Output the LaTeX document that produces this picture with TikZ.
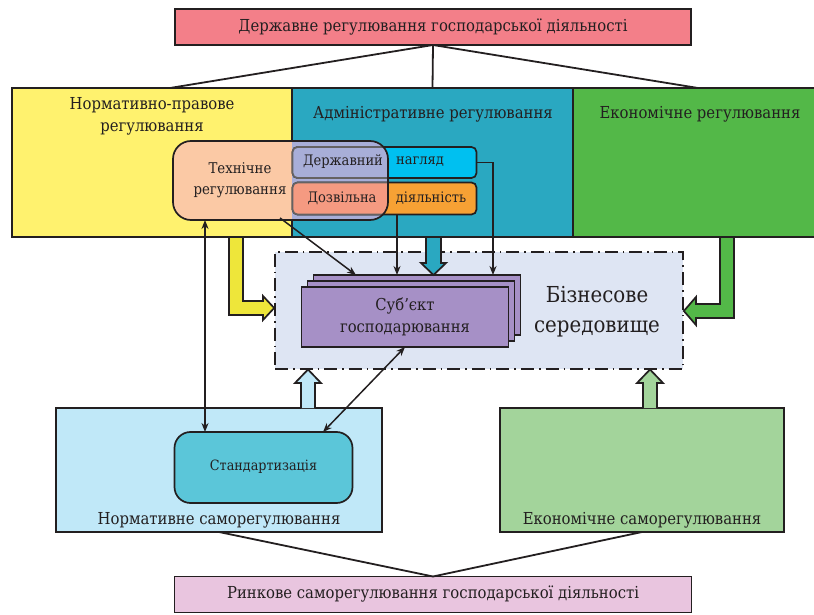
\documentclass[tikz,border=0pt]{standalone}
\usepackage{fontspec}
\setmainfont{DejaVu Serif Condensed}
\usetikzlibrary{arrows.meta,calc}
\definecolor{ink}{HTML}{231F20}
\definecolor{cpink}{HTML}{F37F89}
\definecolor{cyel}{HTML}{FFF26E}
\definecolor{cyelarr}{HTML}{EEE63A}
\definecolor{cteal}{HTML}{2AA8C1}
\definecolor{cgreen}{HTML}{53B848}
\definecolor{cpeach}{HTML}{FBC9A5}
\definecolor{clav}{HTML}{A8AED8}
\definecolor{ccyan}{HTML}{00C0F0}
\definecolor{corange}{HTML}{F7A134}
\definecolor{csalmon}{HTML}{F59A81}
\definecolor{cbiz}{HTML}{DEE5F3}
\definecolor{cpurple}{HTML}{A690C6}
\definecolor{clblue}{HTML}{C0E8F8}
\definecolor{clgreen}{HTML}{A3D49B}
\definecolor{cstd}{HTML}{5BC6D9}
\definecolor{cbpink}{HTML}{E9C5DF}
\begin{document}
\begin{tikzpicture}[x=1pt,y=-1pt, line join=miter,
  box/.style={draw=ink, line width=1.7pt, inner sep=0pt, outer sep=0pt},
  lbl/.style={text=ink, align=center, inner sep=0pt, font=\fontsize{16.5}{22}\selectfont},
  thinline/.style={draw=ink, line width=1.5pt},
  fanline/.style={draw=ink, line width=1.8pt},
  tipend/.style={-{Stealth[length=9pt,width=7pt]}},
  tipboth/.style={{Stealth[length=9pt,width=7pt]}-{Stealth[length=9pt,width=7pt]}},
  blk/.style={draw=ink, line width=1.7pt, line join=miter}]
\useasboundingbox (0,0) rectangle (814,615);
\clip (0,0) rectangle (814,615);

% ---- top box and fan
\node[box, fill=cpink, minimum width=516pt, minimum height=36pt] (top) at (433,27) {};
\node[lbl] (ttop) at (433,27) {Державне регулювання господарської діяльності};

% ---- main row
\node[box, fill=cyel, minimum width=280pt, minimum height=149pt] (yel) at (152,162.5) {};
\node[box, fill=cteal, minimum width=281pt, minimum height=149pt] (adm) at (432.5,162.5) {};
\node[box, fill=cgreen, minimum width=245pt, minimum height=149pt] (eco) at (695.5,162.5) {};

\coordinate (fanl) at (170,88);
\coordinate (fanr) at (698,88);
\draw[fanline] (top.south) -- (fanl);
\draw[fanline] (top.south) -- (adm.north);
\draw[fanline] (top.south) -- (fanr);

\node[lbl] (tyel) at (152,116) {Нормативно-правове\\регулювання};
\node[lbl] (tadm) at (433,114) {Адміністративне регулювання};
\node[lbl] (teco) at (700,114) {Економічне регулювання};

% ---- technical regulation and overlapping boxes
\def\techpath{(173,141) rectangle (388,220)}
\fill[cpeach, rounded corners=18pt] \techpath;
\begin{scope}
  \clip (292,0) rectangle (814,615);
  \fill[clav, rounded corners=18pt] \techpath;
\end{scope}
\node[box, fill=ccyan, rounded corners=5pt, minimum width=184pt, minimum height=31pt] (nad) at (384.5,162.5) {};
\node[box, fill=corange, rounded corners=5pt, minimum width=184pt, minimum height=32pt] (doz) at (384.5,198.5) {};
\begin{scope}
  \clip[rounded corners=18pt] \techpath;
  \fill[clav, rounded corners=5pt] (292.5,147) rectangle (476.5,178);
  \fill[csalmon, rounded corners=5pt] (292.5,182.5) rectangle (476.5,214.5);
  \draw[ink!70, line width=1.7pt, rounded corners=5pt] (292.5,147) rectangle (476.5,178);
  \draw[ink!70, line width=1.7pt, rounded corners=5pt] (292.5,182.5) rectangle (476.5,214.5);
\end{scope}
\node[box, rounded corners=18pt, minimum width=215pt, minimum height=79pt] (tech) at (280.5,180.5) {};

\node[lbl, font=\fontsize{14.8}{21}\selectfont] (ttech) at (240,180) {Технічне\\регулювання};
\node[lbl, font=\fontsize{14.5}{20}\selectfont] (tnad1) at (343,162) {Державний};
\node[lbl, font=\fontsize{14.5}{20}\selectfont] (tnad2) at (420,162) {нагляд};
\node[lbl, font=\fontsize{14.5}{20}\selectfont] (tdoz1) at (342,198) {Дозвільна};
\node[lbl, font=\fontsize{14.5}{20}\selectfont] (tdoz2) at (431,198) {діяльність};

% ---- business environment
\node[draw=ink, line width=1.7pt, fill=cbiz, dash pattern=on 13pt off 5pt on 1.6pt off 5pt,
      minimum width=408pt, minimum height=117pt, inner sep=0pt] (biz) at (479,310.5) {};
\node[lbl, font=\fontsize{22}{30}\selectfont] (tbiz) at (597,312) {Бізнесове\\середовище};

\node[box, fill=cpurple, minimum width=207pt, minimum height=60pt] (subj3) at (417,305) {};
\node[box, fill=cpurple, minimum width=207pt, minimum height=60pt] (subj2) at (411,311) {};
\node[box, fill=cpurple, minimum width=207pt, minimum height=60pt] (subj) at (405,317) {};
\node[lbl, font=\fontsize{16.4}{22}\selectfont] (tsubj) at (405,317) {Суб’єкт\\господарювання};

% ---- bottom row
\node[box, fill=clblue, minimum width=326pt, minimum height=124pt] (nsr) at (219,470) {};
\node[box, fill=clgreen, minimum width=284pt, minimum height=124pt] (esr) at (642,470) {};
\node[box, fill=cstd, rounded corners=16pt, minimum width=178pt, minimum height=71pt] (std) at (263.5,467.5) {};
\node[lbl, font=\fontsize{14.2}{18}\selectfont] (tstd) at (263.5,467) {Стандартизація};
\node[lbl] (tnsr) at (219,520) {Нормативне саморегулювання};
\node[lbl] (tesr) at (642,520) {Економічне саморегулювання};

\node[box, fill=cbpink, minimum width=517pt, minimum height=36pt] (bot) at (433,594.5) {};
\node[lbl] (tbot) at (433,594.5) {Ринкове саморегулювання господарської діяльності};
\draw[fanline] (nsr.south) -- (bot.north);
\draw[fanline] (esr.south) -- (bot.north);

% ---- block arrows
\draw[blk, fill=cyelarr] (229,237) -- (243,237) -- (243,301) -- (263,301) -- (263,296)
  -- (biz.west |- 0,308) -- (263,320) -- (263,315) -- (229,315) -- cycle;
\draw[blk, fill=cteal] (426,237) -- (441,237) -- (441,263) -- (446,263) -- (433.5,275)
  -- (421,263) -- (426,263) -- cycle;
\draw[blk, fill=cgreen] (734,237) -- (720,237) -- (720,304) -- (696,304) -- (696,297)
  -- (biz.east |- 0,311) -- (696,325) -- (696,318) -- (734,318) -- cycle;
\draw[blk, fill=clblue] (301,408) -- (301,383) -- (295,383) -- (308,369.5) -- (321,383)
  -- (315,383) -- (315,408);
\draw[blk, fill=clgreen] (643,408) -- (643,383) -- (637,383) -- (650,369.5) -- (663,383)
  -- (657,383) -- (657,408);

% ---- thin arrows
\coordinate (ax1) at (205,0);
\draw[thinline, tipboth] (tech.south -| ax1) -- (std.north -| ax1);
\coordinate (a2s) at (280,218);
\coordinate (a2e) at (356,275);
\draw[thinline, tipend] (a2s) -- (a2e);
\draw[thinline, tipend] (doz.south -| 397,0) -- (subj3.north -| 397,0);
\draw[thinline, tipend] (nad.east) -| (subj3.north -| 493,0);
\coordinate (a5e) at (323,432);
\draw[thinline, tipboth] (subj.south) -- (a5e);
\end{tikzpicture}
\end{document}
